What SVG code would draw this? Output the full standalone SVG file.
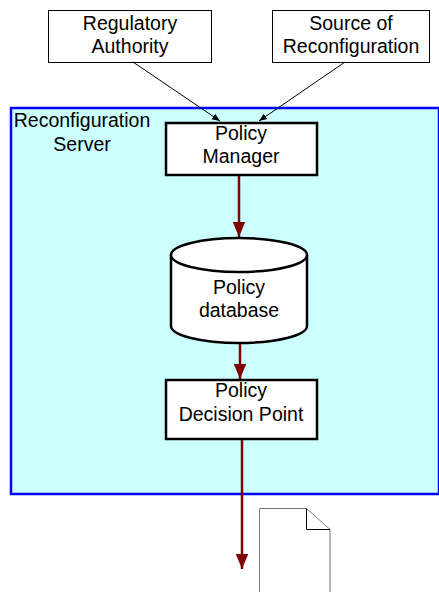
<svg xmlns="http://www.w3.org/2000/svg" width="439" height="592" viewBox="0 0 439 592">
<defs>
<style>
text{font-family:"Liberation Sans",Arial,sans-serif;font-size:19.5px;fill:#000;text-anchor:middle}
.ext{fill:#fff;stroke:#000;stroke-width:1}
.node{fill:#fff;stroke:#000;stroke-width:2.5}
.red{stroke:#800000;stroke-width:2.5;fill:none}
.thin{stroke:#000;stroke-width:1;fill:none}
</style>
<marker id="ah" viewBox="0 0 10 10" refX="10" refY="5" markerWidth="6" markerHeight="5" preserveAspectRatio="none" markerUnits="strokeWidth" orient="auto"><path d="M0,0L10,5L0,10z" fill="#800000"/></marker>
<marker id="bh" viewBox="0 0 10 10" refX="10" refY="5" markerWidth="8" markerHeight="8" markerUnits="strokeWidth" orient="auto"><path d="M0,1L10,5L0,9z" fill="#000"/></marker>
</defs>
<rect width="439" height="592" fill="#fff"/>
<g id="server">
<rect x="11" y="108" width="428" height="386" fill="#ccffff" stroke="#0000ff" stroke-width="2.5"/>
<text x="82" y="127">Reconfiguration</text>
<text x="82" y="151">Server</text>
</g>
<g id="regulatory">
<rect class="ext" x="48.5" y="10.5" width="163" height="52"/>
<text x="130" y="30">Regulatory</text>
<text x="130" y="53">Authority</text>
</g>
<g id="source">
<rect class="ext" x="272.5" y="10.5" width="157" height="52"/>
<text x="351" y="30">Source of</text>
<text x="351" y="53">Reconfiguration</text>
</g>
<g id="connectors">
<line class="thin" x1="133" y1="62" x2="220" y2="121" marker-end="url(#bh)"/>
<line class="thin" x1="345" y1="62" x2="259" y2="121" marker-end="url(#bh)"/>
<line class="red" x1="239" y1="175" x2="239" y2="237" marker-end="url(#ah)"/>
<line class="red" x1="240" y1="343" x2="240" y2="379" marker-end="url(#ah)"/>
<line class="red" x1="242" y1="439" x2="242" y2="569" marker-end="url(#ah)"/>
</g>
<g id="policy-manager">
<rect class="node" x="166" y="123" width="151" height="52"/>
<text x="241" y="140">Policy</text>
<text x="241" y="163">Manager</text>
</g>
<g id="policy-database">
<path class="node" d="M171,255 L171,326 A68,17 0 0 0 307,326 L307,255 A68,17 0 0 0 171,255 Z"/>
<path class="node" fill="none" d="M171,255 A68,17 0 0 0 307,255"/>
<text x="239" y="294">Policy</text>
<text x="239" y="317">database</text>
</g>
<g id="pdp">
<rect class="node" x="166" y="380" width="151" height="59"/>
<text x="241" y="397">Policy</text>
<text x="241" y="421">Decision Point</text>
</g>
<g id="document">
<path d="M259.5,593 L259.5,508.5 L306.5,508.5 L330,529.5 L330,593" fill="#fff" stroke="#777" stroke-width="1"/>
<path d="M306.5,508.5 L306.5,529.5 L330,529.5" fill="none" stroke="#000" stroke-width="1"/>
</g>
</svg>
